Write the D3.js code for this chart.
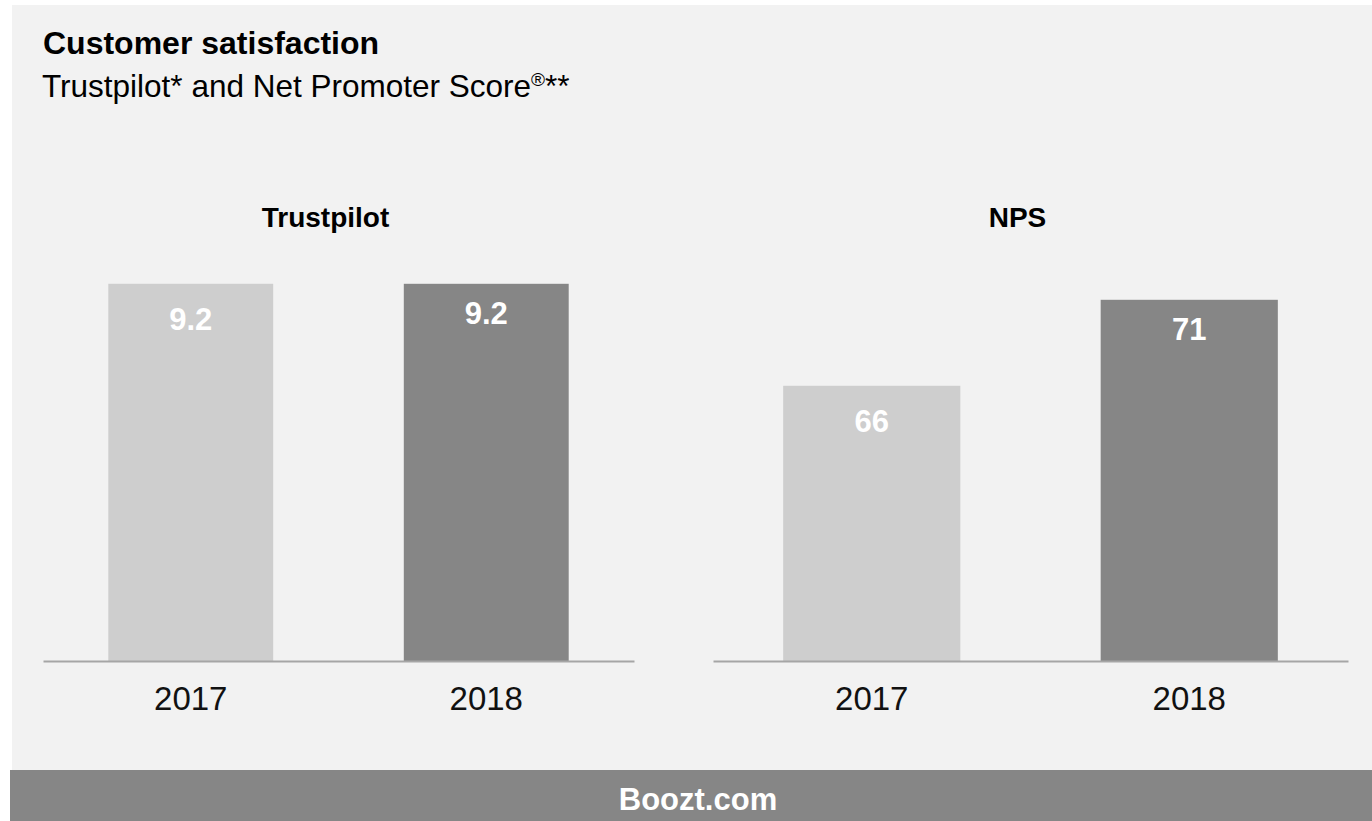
<!DOCTYPE html>
<html>
<head>
<meta charset="utf-8">
<script src="https://cdn.jsdelivr.net/npm/d3@7"></script>
<style>
  body { margin: 0; background: #fff; }
  svg { display: block; font-family: "Liberation Sans", Arial, sans-serif; }
</style>
</head>
<body>
<div id="chart"></div>
<script>
const width = 1372;
const height = 821;

// Data
const years = ["2017", "2018"];
const trustpilotValues = [9.2, 9.2];
const npsValues = [66, 71];
const panelTitles = ["Trustpilot", "NPS"];

// Style per year: bar fill and how far the label sits under the bar top
const yearStyle = {
    "2017": { fill: "#cecece", labelDy: 46 },
    "2018": { fill: "#868686", labelDy: 40 }
};

const svg = d3.select("#chart").append("svg")
    .attr("width", width)
    .attr("height", height);

// Background panel and footer band
svg.append("rect").attr("x", 12).attr("y", 5).attr("width", width - 12).attr("height", 765).attr("fill", "#f2f2f2");
svg.append("rect").attr("x", 10).attr("y", 770).attr("width", width - 10).attr("height", 51).attr("fill", "#868686");

svg.append("text")
    .attr("x", 43).attr("y", 54)
    .attr("font-size", 32).attr("font-weight", "bold").attr("fill", "#000")
    .text("Customer satisfaction");

const sub = svg.append("text")
    .attr("x", 42).attr("y", 97)
    .attr("font-size", 31.5).attr("fill", "#000");
sub.append("tspan").text("Trustpilot* and Net Promoter Score");
sub.append("tspan").attr("font-size", 19).attr("dy", -11).text("®");
sub.append("tspan").attr("dy", 11).text("**");

svg.append("text")
    .attr("x", 698).attr("y", 810)
    .attr("text-anchor", "middle")
    .attr("font-size", 31).attr("font-weight", "bold").attr("fill", "#fff")
    .text("Boozt.com");

const baseline = 661;

const panels = [
    { title: panelTitles[0], values: trustpilotValues, range: [43, 634], domain: [0, 10], top: 251, fmt: d3.format(".1f") },
    { title: panelTitles[1], values: npsValues, range: [713, 1348], domain: [50, 80], top: 145, fmt: d3.format("d") }
];

panels.forEach(p => {
    const x = d3.scaleBand()
        .domain(years)
        .range(p.range)
        .paddingInner(0.442)
        .paddingOuter(0.221);

    const y = d3.scaleLinear()
        .domain(p.domain)
        .range([baseline, p.top]);

    const g = svg.append("g");
    const rows = years.map((yr, i) => ({ year: yr, value: p.values[i] }));

    g.selectAll("rect.bar")
        .data(rows)
        .join("rect")
        .attr("class", "bar")
        .attr("x", d => x(d.year))
        .attr("y", d => y(d.value))
        .attr("width", x.bandwidth())
        .attr("height", d => baseline - y(d.value))
        .attr("fill", d => yearStyle[d.year].fill);

    g.selectAll("text.val")
        .data(rows)
        .join("text")
        .attr("class", "val")
        .attr("x", d => x(d.year) + x.bandwidth() / 2)
        .attr("y", d => y(d.value) + yearStyle[d.year].labelDy)
        .attr("text-anchor", "middle")
        .attr("font-size", 31).attr("font-weight", "bold").attr("fill", "#fff")
        .text(d => p.fmt(d.value));

    // Axis line and year labels
    const axis = g.append("g")
        .attr("transform", `translate(0,${baseline})`)
        .call(d3.axisBottom(x).tickSize(0).tickPadding(26));
    axis.select(".domain").attr("stroke", "#a6a6a6").attr("stroke-width", 2);
    axis.selectAll(".tick text")
        .attr("font-size", 33)
        .attr("font-family", "\"Liberation Sans\", Arial, sans-serif")
        .attr("fill", "#111");

    g.append("text")
        .attr("x", (p.range[0] + p.range[1]) / 2 - 13)
        .attr("y", 227)
        .attr("text-anchor", "middle")
        .attr("font-size", 28).attr("font-weight", "bold").attr("fill", "#000")
        .text(p.title);
});
</script>
</body>
</html>
